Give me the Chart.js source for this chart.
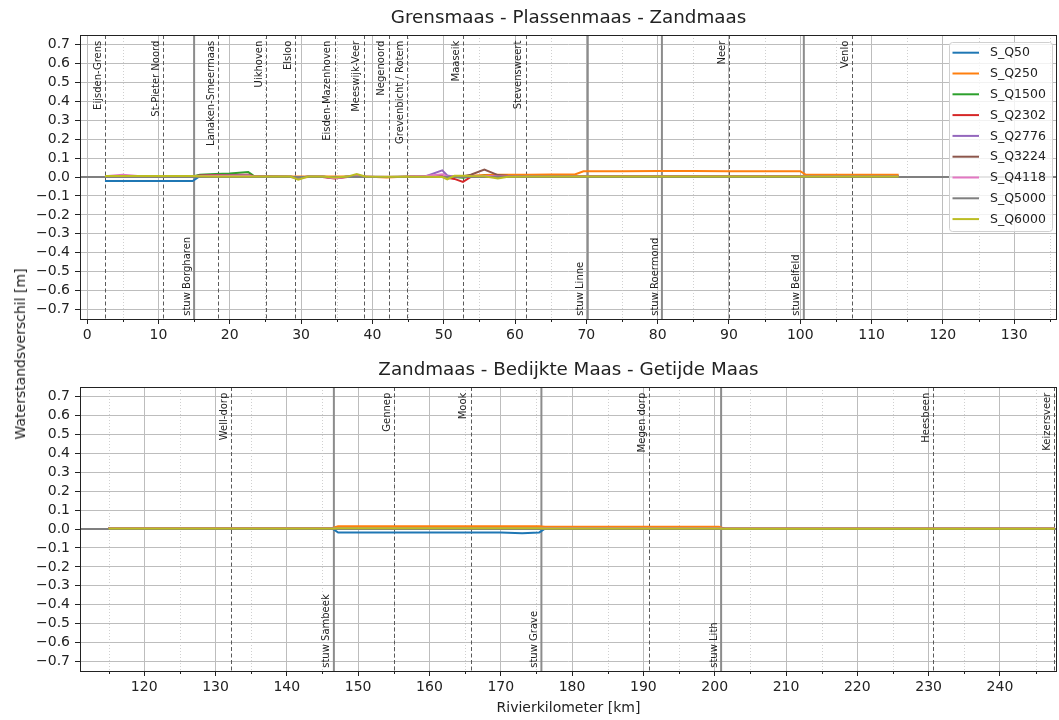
<!DOCTYPE html>
<html lang="nl">
<head>
    <meta charset="UTF-8">
    <title>Waterstandsverschil Maas</title>
    <script src="https://cdn.jsdelivr.net/npm/chart.js"></script>
    <style>
        body {
            margin: 0;
            background: #ffffff;
            font-family: "DejaVu Sans", sans-serif;
        }
        #wrap {
            position: relative;
            width: 1059px;
            height: 720px;
        }
        canvas {
            position: absolute;
            left: 0;
        }
        #topChart { top: 0; }
        #bottomChart { top: 350px; }
        #ylabel {
            position: absolute;
            left: 20px;
            top: 354px;
            transform: translate(-50%, -50%) rotate(-90deg);
            font-size: 14px;
            color: #222;
            white-space: nowrap;
        }
    </style>
</head>
<body>
<div id="wrap">
    <canvas id="topChart" width="1059" height="350"></canvas>
    <canvas id="bottomChart" width="1059" height="370"></canvas>
    <div id="ylabel">Waterstandsverschil [m]</div>
</div>

<script>
    // scenario namen en kleuren
    const seriesNames = ['S_Q50', 'S_Q250', 'S_Q1500', 'S_Q2302', 'S_Q2776', 'S_Q3224', 'S_Q4118', 'S_Q5000', 'S_Q6000'];
    const seriesColors = ['#1f77b4', '#ff7f0e', '#2ca02c', '#d62728', '#9467bd', '#8c564b', '#e377c2', '#7f7f7f', '#bcbd22'];

    // ---- Grensmaas - Plassenmaas - Zandmaas ----
    const kmTop = [-1, 2.5, 5, 7.5, 10, 12.5, 14.8, 15.8, 18, 20, 22.6, 23.5, 26, 28.5, 29.6, 31, 33, 34.7, 36.5, 37.8,
        39, 42, 45, 47.5, 49.8, 50.5, 51.5, 52.7, 53.8, 55.7, 57.6, 59, 62, 65, 68.4, 69.6, 75, 80, 85, 90,
        95, 100, 100.8, 105, 110, 113.8, 136];
    const q50Top = [null, -0.021, -0.021, -0.021, -0.021, -0.021, -0.021, 0.004, 0.005, 0.005, 0.005, 0.002, 0.001, 0.0, -0.003, 0.001, 0.001, -0.003, 0.001, 0.002,
        0.001, 0.0, 0.0, 0.001, 0.002, 0.0, 0.001, 0.001, 0.002, 0.002, 0.002, 0.003, 0.003, 0.003, 0.003, 0.004, 0.004, 0.004, 0.004, 0.004,
        0.004, 0.004, 0.002, 0.002, 0.002, 0.002, null];
    const q250Top = [null, 0.004, 0.004, 0.004, 0.004, 0.004, 0.004, 0.005, 0.005, 0.005, 0.005, 0.005, 0.002, 0.002, 0.002, 0.002, 0.002, 0.002, 0.002, 0.002,
        0.002, -0.002, 0.002, 0.002, 0.002, 0.002, 0.002, 0.002, 0.006, 0.011, 0.012, 0.012, 0.012, 0.013, 0.013, 0.030, 0.031, 0.032, 0.032, 0.031,
        0.031, 0.031, 0.012, 0.012, 0.012, 0.012, null];
    const q1500Top = [null, 0.003, 0.003, 0.003, 0.003, 0.003, 0.003, 0.012, 0.016, 0.019, 0.026, 0.002, 0.001, 0.001, -0.002, 0.001, 0.001, -0.002, 0.001, 0.003,
        0.001, 0.0, 0.001, 0.001, 0.003, 0.001, 0.0, -0.004, 0.002, 0.006, 0.002, 0.002, 0.002, 0.002, 0.002, 0.003, 0.003, 0.003, 0.003, 0.003,
        0.003, 0.003, 0.002, 0.002, 0.002, 0.002, null];
    const q2302Top = [null, 0.003, 0.003, 0.003, 0.003, 0.003, 0.003, 0.008, 0.010, 0.011, 0.012, 0.003, 0.001, 0.0, -0.002, 0.0, 0.0, -0.008, 0.0, 0.004,
        0.0, 0.0, 0.0, 0.001, 0.002, -0.004, -0.010, -0.026, 0.0, 0.004, 0.003, 0.003, 0.003, 0.003, 0.003, 0.003, 0.003, 0.003, 0.003, 0.003,
        0.003, 0.003, 0.002, 0.002, 0.002, 0.002, null];
    const q2776Top = [null, 0.003, 0.003, 0.003, 0.003, 0.003, 0.003, 0.006, 0.007, 0.008, 0.009, 0.002, 0.001, 0.001, -0.002, 0.001, 0.001, -0.004, 0.001, 0.003,
        0.001, 0.0, 0.001, 0.004, 0.035, 0.008, 0.001, 0.0, 0.002, 0.004, 0.003, 0.003, 0.003, 0.003, 0.003, 0.003, 0.003, 0.003, 0.003, 0.003,
        0.003, 0.003, 0.002, 0.002, 0.002, 0.002, null];
    const q3224Top = [null, 0.003, 0.003, 0.003, 0.003, 0.003, 0.003, 0.006, 0.007, 0.008, 0.009, 0.002, 0.001, 0.001, -0.002, 0.001, 0.001, -0.004, 0.001, 0.003,
        0.001, 0.0, 0.001, 0.002, 0.003, 0.0, 0.001, 0.004, 0.012, 0.039, 0.010, 0.006, 0.004, 0.004, 0.004, 0.004, 0.004, 0.004, 0.004, 0.004,
        0.004, 0.004, 0.002, 0.002, 0.002, 0.002, null];
    const q4118Top = [null, 0.004, 0.012, 0.004, 0.003, 0.003, 0.003, 0.005, 0.006, 0.007, 0.008, 0.002, 0.001, 0.001, -0.003, 0.001, 0.002, -0.006, 0.001, 0.004,
        0.001, 0.001, 0.002, 0.005, 0.014, 0.003, 0.0, 0.002, 0.003, 0.005, 0.003, 0.003, 0.003, 0.003, 0.003, 0.003, 0.003, 0.003, 0.003, 0.003,
        0.003, 0.003, 0.002, 0.002, 0.002, 0.002, null];
    const q5000Top = [0, 0, 0, 0, 0, 0, 0, 0, 0, 0, 0, 0, 0, 0, 0, 0, 0, 0, 0, 0,
        0, 0, 0, 0, 0, 0, 0, 0, 0, 0, 0, 0, 0, 0, 0, 0, 0, 0, 0, 0,
        0, 0, 0, 0, 0, 0, 0];
    const q6000Top = [null, 0.005, 0.005, 0.005, 0.005, 0.005, 0.005, 0.004, 0.003, 0.003, 0.003, 0.003, 0.003, 0.002, -0.014, 0.002, 0.002, -0.002, 0.002, 0.016,
        0.003, 0.001, 0.001, 0.001, 0.0, -0.012, 0.006, 0.007, 0.005, 0.004, -0.008, 0.001, 0.002, 0.002, 0.002, 0.002, 0.002, 0.002, 0.002, 0.002,
        0.002, 0.002, 0.002, 0.002, 0.002, 0.002, null];

    const placesTop = ['Eijsden-Grens', 'St-Pieter Noord', 'Lanaken-Smeermaas', 'Uikhoven', 'Elsloo', 'Eisden-Mazenhoven',
        'Meeswijk-Veer', 'Negenoord', 'Grevenbicht / Rotem', 'Maaseik', 'Stevensweert', 'Neer', 'Venlo'];
    const placesTopKm = [2.5, 10.7, 18.4, 25.1, 29.2, 34.7, 38.8, 42.3, 44.9, 52.7, 61.5, 90.0, 107.3];
    const weirsTop = ['stuw Borgharen', 'stuw Linne', 'stuw Roermond', 'stuw Belfeld'];
    const weirsTopKm = [15.0, 70.2, 80.6, 100.5];
    const xTicksTop = [0, 10, 20, 30, 40, 50, 60, 70, 80, 90, 100, 110, 120, 130];
    const xMinorTop = [5, 15, 25, 35, 45, 55, 65, 75, 85, 95, 105, 115, 125, 135];

    // ---- Zandmaas - Bedijkte Maas - Getijde Maas ----
    const kmBot = [111, 115, 120, 130, 140, 146.4, 147.2, 150, 160, 170, 173, 175.4, 176.2, 180, 190, 200.6, 201.4, 210, 220, 230, 240, 247.7, 248];
    const q50Bot = [null, 0.002, 0.002, 0.002, 0.002, 0.002, -0.019, -0.019, -0.019, -0.019, -0.022, -0.018, 0.002, 0.002, 0.002, 0.002, 0.0, 0.0, 0.0, 0.0, 0.0, 0.0, null];
    const q250Bot = [null, 0.005, 0.005, 0.005, 0.005, 0.005, 0.015, 0.015, 0.015, 0.015, 0.015, 0.015, 0.012, 0.012, 0.012, 0.012, 0.001, 0.001, 0.001, 0.001, 0.001, 0.001, null];
    const q1500Bot = [null, 0.003, 0.003, 0.003, 0.003, 0.003, 0.005, 0.005, 0.005, 0.005, 0.005, 0.005, 0.004, 0.004, 0.004, 0.004, 0.001, 0.001, 0.001, 0.001, 0.001, 0.001, null];
    const q2302Bot = [null, 0.003, 0.003, 0.003, 0.003, 0.003, 0.005, 0.005, 0.005, 0.005, 0.005, 0.005, 0.004, 0.004, 0.004, 0.004, 0.001, 0.001, 0.001, 0.001, 0.001, 0.001, null];
    const q2776Bot = [null, 0.003, 0.003, 0.003, 0.003, 0.003, 0.005, 0.005, 0.005, 0.005, 0.005, 0.005, 0.004, 0.004, 0.004, 0.004, 0.001, 0.001, 0.001, 0.001, 0.001, 0.001, null];
    const q3224Bot = [null, 0.003, 0.003, 0.003, 0.003, 0.003, 0.005, 0.005, 0.005, 0.005, 0.005, 0.005, 0.004, 0.004, 0.004, 0.004, 0.001, 0.001, 0.001, 0.001, 0.001, 0.001, null];
    const q4118Bot = [null, 0.003, 0.003, 0.003, 0.003, 0.003, 0.004, 0.004, 0.004, 0.004, 0.004, 0.004, 0.004, 0.004, 0.004, 0.004, 0.001, 0.001, 0.001, 0.001, 0.001, 0.001, null];
    const q5000Bot = [0, 0, 0, 0, 0, 0, 0, 0, 0, 0, 0, 0, 0, 0, 0, 0, 0, 0, 0, 0, 0, 0, 0];
    const q6000Bot = [null, 0.003, 0.003, 0.003, 0.003, 0.003, 0.004, 0.004, 0.004, 0.004, 0.004, 0.004, 0.003, 0.003, 0.003, 0.003, 0.001, 0.001, 0.001, 0.001, 0.001, 0.001, null];

    const placesBot = ['Well-dorp', 'Gennep', 'Mook', 'Megen dorp', 'Heesbeen', 'Keizersveer'];
    const placesBotKm = [132.2, 155.1, 165.8, 190.8, 230.6, 247.6];
    const weirsBot = ['stuw Sambeek', 'stuw Grave', 'stuw Lith'];
    const weirsBotKm = [146.6, 175.7, 200.9];
    const xTicksBot = [120, 130, 140, 150, 160, 170, 180, 190, 200, 210, 220, 230, 240];
    const xMinorBot = [115, 125, 135, 145, 155, 165, 175, 185, 195, 205, 215, 225, 235, 245];

    const yTicks = [-0.7, -0.6, -0.5, -0.4, -0.3, -0.2, -0.1, 0.0, 0.1, 0.2, 0.3, 0.4, 0.5, 0.6, 0.7];

    const FONT = '"DejaVu Sans", sans-serif';
    const INK = '#222222';

    function fmtY(v) {
        const s = Math.abs(v) < 1e-9 ? '0.0' : v.toFixed(1);
        return s.replace('-', '\u2212');
    }

    function vline(ctx, px, y1, y2) {
        ctx.beginPath();
        ctx.moveTo(px, y1);
        ctx.lineTo(px, y2);
        ctx.stroke();
    }

    // grid-extra's, plaatslijnen, stuwen, titel en legenda
    function overlay(cfg) {
        return {
            id: 'overlay',
            beforeDatasetsDraw(chart) {
                const { ctx, chartArea: a } = chart;
                const x = chart.scales.x;
                ctx.save();
                // minor grid (dotted)
                ctx.strokeStyle = '#c4c4c4';
                ctx.lineWidth = 0.8;
                ctx.setLineDash([1, 2]);
                cfg.xMinor.forEach(v => {
                    const px = Math.round(x.getPixelForValue(v)) + 0.5;
                    vline(ctx, px, a.top, a.bottom);
                });
                // minor ticks
                ctx.setLineDash([]);
                ctx.strokeStyle = INK;
                ctx.lineWidth = 1;
                cfg.xMinor.forEach(v => {
                    const px = Math.round(x.getPixelForValue(v)) + 0.5;
                    vline(ctx, px, a.bottom, a.bottom + 3);
                });
                // meetlocaties
                ctx.strokeStyle = '#5a5a5a';
                ctx.lineWidth = 1;
                ctx.setLineDash([4, 2.5]);
                cfg.placesKm.forEach(v => {
                    const px = Math.round(x.getPixelForValue(v)) + 0.5;
                    vline(ctx, px, a.top, a.bottom);
                });
                // stuwen
                ctx.setLineDash([]);
                ctx.strokeStyle = '#8c8c8c';
                ctx.lineWidth = 2;
                cfg.weirsKm.forEach(v => {
                    vline(ctx, x.getPixelForValue(v), a.top, a.bottom);
                });
                ctx.restore();
            },
            afterDraw(chart) {
                const { ctx, chartArea: a } = chart;
                const x = chart.scales.x;
                const y = chart.scales.y;
                ctx.save();

                // labels bij de lijnen
                ctx.fillStyle = INK;
                ctx.font = '10px ' + FONT;
                ctx.textBaseline = 'bottom';
                cfg.places.forEach((name, i) => {
                    ctx.save();
                    ctx.translate(x.getPixelForValue(cfg.placesKm[i]) - 2, y.getPixelForValue(0.72));
                    ctx.rotate(-Math.PI / 2);
                    ctx.textAlign = 'right';
                    ctx.fillText(name, 0, 0);
                    ctx.restore();
                });
                cfg.weirs.forEach((name, i) => {
                    ctx.save();
                    ctx.translate(x.getPixelForValue(cfg.weirsKm[i]) - 2, y.getPixelForValue(-0.733));
                    ctx.rotate(-Math.PI / 2);
                    ctx.textAlign = 'left';
                    ctx.fillText(name, 0, 0);
                    ctx.restore();
                });

                // kader
                ctx.strokeStyle = INK;
                ctx.lineWidth = 1;
                ctx.strokeRect(Math.round(a.left) + 0.5, Math.round(a.top) + 0.5,
                    Math.round(a.right - a.left) - 1, Math.round(a.bottom - a.top));

                // titel
                ctx.font = '18.3px ' + FONT;
                ctx.textAlign = 'center';
                ctx.textBaseline = 'middle';
                ctx.fillText(cfg.title, (a.left + a.right) / 2, a.top - 17);

                if (cfg.legend) {
                    const lx = 949, ly = 42, lw = 103, lh = 189;
                    ctx.beginPath();
                    ctx.roundRect(lx + 0.5, ly + 0.5, lw, lh, 3);
                    ctx.fillStyle = 'rgba(255,255,255,0.8)';
                    ctx.fill();
                    ctx.strokeStyle = '#d0d0d0';
                    ctx.stroke();
                    ctx.font = '12.5px ' + FONT;
                    ctx.textAlign = 'left';
                    chart.data.datasets.forEach((ds, i) => {
                        const cy = ly + 10.7 + i * 20.8;
                        ctx.strokeStyle = ds.borderColor;
                        ctx.lineWidth = 2;
                        ctx.beginPath();
                        ctx.moveTo(lx + 3.5, cy);
                        ctx.lineTo(lx + 30, cy);
                        ctx.stroke();
                        ctx.fillStyle = INK;
                        ctx.fillText(ds.label, lx + 41, cy + 0.5);
                    });
                }
                ctx.restore();
            }
        };
    }

    function makeChart(id, cfg) {
        // latere scenario's bovenop tekenen
        const datasets = seriesNames.map((name, i) => ({
            label: name,
            data: cfg.km.map((k, j) => ({ x: k, y: cfg.values[i][j] })).filter(p => p.y !== null),
            borderColor: seriesColors[i],
            backgroundColor: seriesColors[i],
            borderWidth: 2,
            pointRadius: 0,
            tension: 0,
            fill: false,
            order: seriesNames.length - i
        }));

        return new Chart(document.getElementById(id), {
            type: 'line',
            data: { datasets },
            options: {
                responsive: false,
                animation: false,
                events: [],
                layout: { padding: { top: cfg.padTop, right: 2, left: 0, bottom: 0 } },
                plugins: {
                    legend: { display: false },
                    tooltip: { enabled: false },
                    title: { display: false }
                },
                scales: {
                    x: {
                        type: 'linear',
                        min: cfg.xMin,
                        max: cfg.xMax,
                        afterBuildTicks: s => { s.ticks = cfg.xTicks.map(v => ({ value: v })); },
                        afterFit: s => { s.height = cfg.xHeight; },
                        ticks: {
                            font: { family: FONT, size: 14 },
                            color: INK,
                            padding: 3,
                            maxRotation: 0,
                            autoSkip: false,
                            callback: v => String(v)
                        },
                        grid: { color: '#bdbdbd', lineWidth: 1, tickColor: INK, tickLength: 5, tickWidth: 1 },
                        border: { display: false },
                        title: cfg.xTitle ? {
                            display: true,
                            text: cfg.xTitle,
                            color: INK,
                            font: { family: FONT, size: 14 },
                            padding: { top: 2, bottom: 3 }
                        } : { display: false }
                    },
                    y: {
                        min: -0.75,
                        max: 0.75,
                        afterBuildTicks: s => { s.ticks = yTicks.map(v => ({ value: v })); },
                        afterFit: s => { s.width = 80; },
                        ticks: {
                            font: { family: FONT, size: 14 },
                            color: INK,
                            padding: 5,
                            callback: v => fmtY(v)
                        },
                        grid: { color: '#bdbdbd', lineWidth: 1, tickColor: INK, tickLength: 5, tickWidth: 1 },
                        border: { display: false }
                    }
                }
            },
            plugins: [overlay(cfg)]
        });
    }

    makeChart('topChart', {
        title: 'Grensmaas - Plassenmaas - Zandmaas',
        km: kmTop,
        values: [q50Top, q250Top, q1500Top, q2302Top, q2776Top, q3224Top, q4118Top, q5000Top, q6000Top],
        xMin: -1, xMax: 136,
        xTicks: xTicksTop, xMinor: xMinorTop,
        places: placesTop, placesKm: placesTopKm,
        weirs: weirsTop, weirsKm: weirsTopKm,
        padTop: 35, xHeight: 31,
        legend: true
    });

    makeChart('bottomChart', {
        title: 'Zandmaas - Bedijkte Maas - Getijde Maas',
        km: kmBot,
        values: [q50Bot, q250Bot, q1500Bot, q2302Bot, q2776Bot, q3224Bot, q4118Bot, q5000Bot, q6000Bot],
        xMin: 111, xMax: 248,
        xTicks: xTicksBot, xMinor: xMinorBot,
        places: placesBot, placesKm: placesBotKm,
        weirs: weirsBot, weirsKm: weirsBotKm,
        padTop: 37, xHeight: 49,
        xTitle: 'Rivierkilometer [km]',
        legend: false
    });
</script>
</body>
</html>
